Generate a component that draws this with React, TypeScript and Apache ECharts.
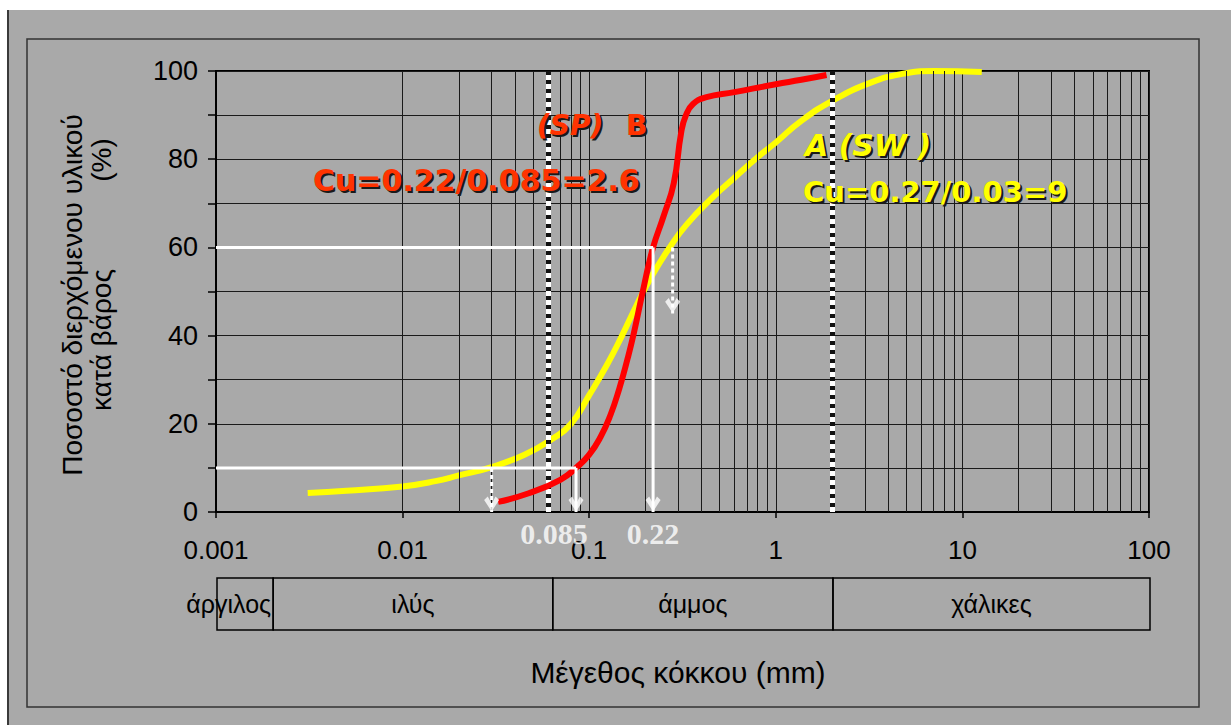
import React, { useEffect, useRef } from 'react';
import * as echarts from 'echarts';

// ---- data ----
const xTickLabels = ['0.001', '0.01', '0.1', '1', '10', '100'];
const yTickLabels = ['0', '20', '40', '60', '80', '100'];

// Soil B (SP) - red curve: grain size (mm) / percent passing
const soilBSize = [0.0325, 0.047, 0.07, 0.086, 0.1, 0.115, 0.13, 0.145, 0.16, 0.1736, 0.196, 0.22, 0.25, 0.284, 0.311, 0.33, 0.36, 0.42, 0.6, 1.0, 1.37, 1.87];
const soilBPass = [2.3, 4.2, 7.3, 10.2, 13, 17, 22, 28, 34.5, 40.6, 51, 60, 67, 74.6, 86, 90, 92.5, 94, 95.2, 97, 98, 99.1];

// Soil A (SW) - yellow curve
const soilASize = [0.0031, 0.005, 0.01, 0.015, 0.02, 0.03, 0.045, 0.063, 0.08, 0.1, 0.125, 0.15, 0.18, 0.22, 0.27, 0.33, 0.45, 0.6, 0.8, 1.0, 1.37, 2.04, 3.2, 4.7, 7.0, 12.7];
const soilAPass = [4.3, 4.8, 5.8, 7, 8.3, 10.2, 13, 16.5, 20, 26.5, 33.5, 40, 47, 54, 60, 65, 71, 75.8, 80.5, 83.8, 88.7, 93.4, 97.3, 99.3, 100, 99.8];

// characteristic diameters
const d10B = 0.085;
const d60B = 0.22;
const d10A = 0.03;
const d60A = 0.28;
const arrowA60End = 45;

// soil classes
const classNames = ['άργιλος', 'ιλύς', 'άμμος', 'χάλικες'];
const classBounds = [0.001, 0.002, 0.063, 2, 100];
const boundaryLines = [0.063, 2];

// log grid
const decades = [0.001, 0.01, 0.1, 1, 10];
const minorMultipliers = [2, 3, 4, 5, 6, 7, 8, 9];

const SANS = '"Liberation Sans", Arial, sans-serif';
const ANNOT = '"DejaVu Sans", sans-serif';
const chevronDown = 'path://M0,2.4L2.4,0L5,4.9L7.6,0L10,2.4L5,10Z';

function shadowText(text: string, x: number, y: number, color: string, size: number, italic: boolean) {
  const base = {
    fontSize: size,
    fontWeight: 'bold',
    fontStyle: italic ? 'italic' : 'normal',
    fontFamily: ANNOT,
    align: 'left',
    verticalAlign: 'middle',
    text,
  };
  return [
    { type: 'text', x: x + 2, y: y + 2, z: 50, style: { ...base, fill: '#1a1a1a' } },
    { type: 'text', x, y, z: 51, style: { ...base, fill: color } },
  ];
}

function whiteLine(name: string, data: number[][], dashed: boolean) {
  return {
    name, type: 'line', z: 6, showSymbol: false, silent: true,
    data,
    lineStyle: { color: '#fff', width: 3, type: dashed ? [4, 3] : 'solid' },
  };
}

export default function App() {
  const ref = useRef<HTMLDivElement>(null);

  useEffect(() => {
    if (!ref.current) return;
    const chart = echarts.init(ref.current, undefined, { renderer: 'svg' });
    const gridValues = decades.flatMap((d) => minorMultipliers.map((m) => Number((d * m).toPrecision(2))));

    const option: any = {
      animation: false,
      backgroundColor: 'transparent',
      textStyle: { fontFamily: SANS },
      grid: [
        { left: 216, top: 71, width: 933, height: 441, show: true, borderColor: '#000', borderWidth: 2, backgroundColor: 'transparent' },
        { left: 217, top: 578, width: 933, height: 52, show: false },
      ],
      xAxis: [
        {
          type: 'log', logBase: 10, min: 0.001, max: 100, gridIndex: 0,
          axisLine: { show: true, lineStyle: { color: '#000', width: 2 } },
          axisTick: { show: true, length: 6, lineStyle: { color: '#000', width: 1.5 } },
          axisLabel: {
            margin: 25, fontSize: 26, color: '#000', fontFamily: SANS,
            formatter: (v: number) => xTickLabels[Math.round(Math.log10(v)) + 3] ?? '',
          },
          splitLine: { show: true, lineStyle: { color: '#1a1a1a', width: 1 } },
        },
        { type: 'log', logBase: 10, min: 0.001, max: 100, gridIndex: 1, show: false },
      ],
      yAxis: [
        {
          type: 'value', min: 0, max: 100, interval: 10, gridIndex: 0,
          axisLine: { show: true, lineStyle: { color: '#000', width: 2 } },
          axisTick: { show: true, length: 8, lineStyle: { color: '#000', width: 1.5 } },
          axisLabel: {
            margin: 18, fontSize: 27, color: '#000', fontFamily: SANS,
            formatter: (v: number) => (v % 20 === 0 ? yTickLabels[v / 20] : ''),
          },
          splitLine: { show: true, lineStyle: { color: '#1a1a1a', width: 1 } },
        },
        { type: 'value', min: 0, max: 1, gridIndex: 1, show: false },
      ],
      graphic: [
        { type: 'rect', z: 0, shape: { x: 27, y: 39, width: 1172, height: 668 }, style: { fill: 'none', stroke: '#333', lineWidth: 1.5 } },
        {
          type: 'text', x: 72, y: 295, rotation: Math.PI / 2, z: 10,
          style: { text: 'Ποσοστό διερχόμενου υλικού', fontSize: 28, fontFamily: SANS, fill: '#000', align: 'center', verticalAlign: 'middle' },
        },
        {
          type: 'text', x: 101, y: 340, rotation: Math.PI / 2, z: 10,
          style: { text: 'κατά βάρος', fontSize: 28, fontFamily: SANS, fill: '#000', align: 'center', verticalAlign: 'middle' },
        },
        {
          type: 'text', x: 101, y: 160, rotation: Math.PI / 2, z: 10,
          style: { text: '(%)', fontSize: 28, fontFamily: SANS, fill: '#000', align: 'center', verticalAlign: 'middle' },
        },
        {
          type: 'text', x: 678, y: 672, z: 10,
          style: { text: 'Μέγεθος κόκκου (mm)', fontSize: 30, fontFamily: SANS, fill: '#000', align: 'center', verticalAlign: 'middle' },
        },
        ...shadowText('(SP)', 537, 125, '#ff3300', 28, true),
        ...shadowText('B', 626, 125, '#ff3300', 28, false),
        ...shadowText('Cu=0.22/0.085=2.6', 313, 180, '#ff3300', 30, false),
        ...shadowText('A (SW )', 805, 145, '#ffff00', 30, true),
        ...shadowText('Cu=0.27/0.03=9', 803, 192, '#ffff00', 29, false),
      ],
      series: [
        {
          name: 'grid-minor', type: 'line', xAxisIndex: 0, yAxisIndex: 0, z: 1,
          data: [[0.001, 0]], showSymbol: false, lineStyle: { opacity: 0 },
          markLine: {
            silent: true, symbol: ['none', 'none'], label: { show: false },
            lineStyle: { color: '#1a1a1a', width: 1, type: 'solid' },
            data: gridValues.map((v) => ({ xAxis: v })),
          },
        },
        {
          name: 'boundary-black', type: 'line', z: 3, data: [[0.001, 0]], showSymbol: false, lineStyle: { opacity: 0 },
          markLine: {
            silent: true, symbol: ['none', 'none'], label: { show: false },
            lineStyle: { color: '#111', width: 5, type: 'solid' },
            data: boundaryLines.map((v) => ({ xAxis: v })),
          },
        },
        {
          name: 'boundary-white', type: 'line', z: 3, data: [[0.001, 0]], showSymbol: false, lineStyle: { opacity: 0 },
          markLine: {
            silent: true, symbol: ['none', 'none'], label: { show: false },
            lineStyle: { color: '#fff', width: 5, type: [5, 4] },
            data: boundaryLines.map((v) => ({ xAxis: v })),
          },
        },
        {
          name: 'A (SW)', type: 'line', z: 4, smooth: 0.5, showSymbol: false,
          data: soilASize.map((x, i) => [x, soilAPass[i]]),
          lineStyle: { color: '#ffff00', width: 6 },
        },
        {
          name: 'B (SP)', type: 'line', z: 5, smooth: 0.5, showSymbol: false,
          data: soilBSize.map((x, i) => [x, soilBPass[i]]),
          lineStyle: { color: '#ff0000', width: 6 },
        },
        whiteLine('D60 level', [[0.001, 60], [d60B, 60]], false),
        whiteLine('D10 level', [[0.001, 10], [d10B, 10]], false),
        whiteLine('D60 B drop', [[d60B, 60], [d60B, 0]], false),
        whiteLine('D10 B drop', [[d10B, 10], [d10B, 0]], false),
        whiteLine('D10 A drop', [[d10A, 10], [d10A, 0]], true),
        whiteLine('D60 A drop', [[d60A, 60], [d60A, arrowA60End]], true),
        {
          name: 'arrow heads', type: 'scatter', z: 7, silent: true,
          symbol: chevronDown, symbolSize: [15, 15], symbolOffset: [0, -8],
          itemStyle: { color: '#fff' },
          data: [[d60B, 0], [d10B, 0], [d10A, 0], [d60A, arrowA60End]],
        },
        {
          name: 'D labels', type: 'scatter', z: 7, silent: true, symbolSize: 0,
          data: [
            { value: [d10B, 0], label: { formatter: '0.085', offset: [-22, 21] } },
            { value: [d60B, 0], label: { formatter: '0.22', offset: [0, 21] } },
          ],
          label: { show: true, position: 'inside', color: '#fff', fontFamily: '"Liberation Serif", serif', fontWeight: 'bold', fontSize: 30 },
        },
        {
          name: 'classes', type: 'custom', xAxisIndex: 1, yAxisIndex: 1, z: 2,
          encode: { x: [0, 1] },
          data: classNames.map((_, i) => [classBounds[i], classBounds[i + 1], i]),
          renderItem: (_params: any, api: any) => {
            const p0 = api.coord([api.value(0), 1]);
            const p1 = api.coord([api.value(1), 0]);
            const i = api.value(2);
            const first = i === 0;
            return {
              type: 'group',
              children: [
                {
                  type: 'rect',
                  shape: { x: p0[0], y: p0[1], width: p1[0] - p0[0], height: p1[1] - p0[1] },
                  style: { fill: 'none', stroke: '#000', lineWidth: 1.5 },
                },
                {
                  type: 'text',
                  x: first ? p1[0] - 2 : (p0[0] + p1[0]) / 2,
                  y: (p0[1] + p1[1]) / 2,
                  style: {
                    text: classNames[i], fontSize: 25, fontFamily: SANS, fill: '#000',
                    align: first ? 'right' : 'center', verticalAlign: 'middle',
                  },
                },
              ],
            };
          },
        },
      ],
    };

    chart.setOption(option);
    return () => chart.dispose();
  }, []);

  return (
    <div style={{ position: 'fixed', left: 0, top: 0, width: 1231, height: 725, background: '#fff' }}>
      <div
        style={{
          position: 'absolute', left: 7, top: 10, width: 1224, height: 715,
          background: '#a9a9a9', borderLeft: '2px solid #3a3a3a', boxSizing: 'border-box',
        }}
      />
      <div ref={ref} style={{ position: 'absolute', left: 0, top: 0, width: 1231, height: 725 }} />
    </div>
  );
}
